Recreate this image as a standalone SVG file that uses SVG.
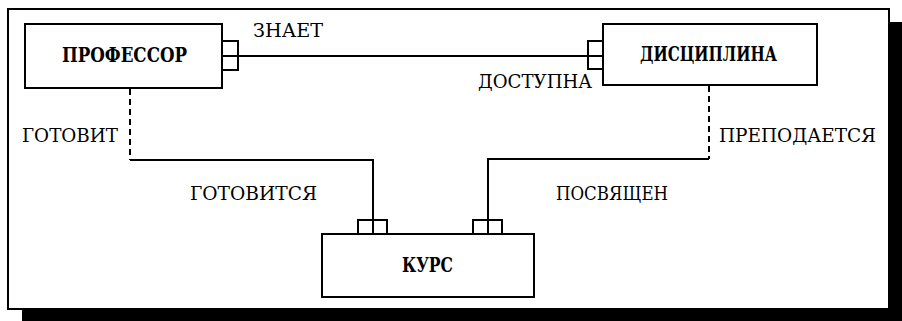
<svg xmlns="http://www.w3.org/2000/svg" width="902" height="321" viewBox="0 0 902 321">
<style>
.box{fill:#fff;stroke:#000;stroke-width:2}
.port{fill:#fff;stroke:#000;stroke-width:2}
.ln{fill:none;stroke:#000;stroke-width:2}
.dash{fill:none;stroke:#000;stroke-width:2;stroke-dasharray:6 4}
.lbl{font-family:'DejaVu Serif',serif;font-size:19px;fill:#000}
.name{font-family:'DejaVu Serif',serif;font-size:20px;font-weight:bold;fill:#000}
</style>
<rect x="22" y="22" width="880" height="299" fill="#000"/>
<rect x="8" y="9" width="881" height="300" fill="#fff" stroke="#000" stroke-width="2"/>
<g id="connectors">
<line class="ln" x1="238" y1="56" x2="588" y2="56"/>
<polyline class="dash" points="130,89 130,160"/>
<polyline class="ln" points="130,160 373,160 373,220"/>
<polyline class="dash" points="709,86 709,159"/>
<polyline class="ln" points="709,159 488,159 488,220"/>
<text class="lbl" x="253" y="37" textLength="70" lengthAdjust="spacingAndGlyphs">ЗНАЕТ</text>
<text class="lbl" x="478" y="88" textLength="114" lengthAdjust="spacingAndGlyphs">ДОСТУПНА</text>
<text class="lbl" x="22" y="142" textLength="96" lengthAdjust="spacingAndGlyphs">ГОТОВИТ</text>
<text class="lbl" x="719" y="142" textLength="157" lengthAdjust="spacingAndGlyphs">ПРЕПОДАЕТСЯ</text>
<text class="lbl" x="190" y="200" textLength="127" lengthAdjust="spacingAndGlyphs">ГОТОВИТСЯ</text>
<text class="lbl" x="556" y="200" textLength="112" lengthAdjust="spacingAndGlyphs">ПОСВЯЩЕН</text>
</g>
<g id="professor">
<rect class="box" x="25" y="24" width="197" height="64"/>
<rect class="port" x="222" y="41" width="16" height="15"/>
<rect class="port" x="222" y="56" width="16" height="14"/>
<text class="name" x="62" y="62" textLength="125" lengthAdjust="spacingAndGlyphs">ПРОФЕССОР</text>
</g>
<g id="discipline">
<rect class="box" x="603" y="24" width="214" height="61"/>
<rect class="port" x="588" y="41" width="15" height="15"/>
<rect class="port" x="588" y="56" width="15" height="13"/>
<text class="name" x="640" y="61" textLength="137" lengthAdjust="spacingAndGlyphs">ДИСЦИПЛИНА</text>
</g>
<g id="course">
<rect class="box" x="322" y="234" width="212" height="63"/>
<rect class="port" x="358" y="220" width="15" height="14"/>
<rect class="port" x="373" y="220" width="14" height="14"/>
<rect class="port" x="473" y="220" width="15" height="14"/>
<rect class="port" x="488" y="220" width="14" height="14"/>
<text class="name" x="402" y="272" textLength="51" lengthAdjust="spacingAndGlyphs">КУРС</text>
</g>
</svg>
